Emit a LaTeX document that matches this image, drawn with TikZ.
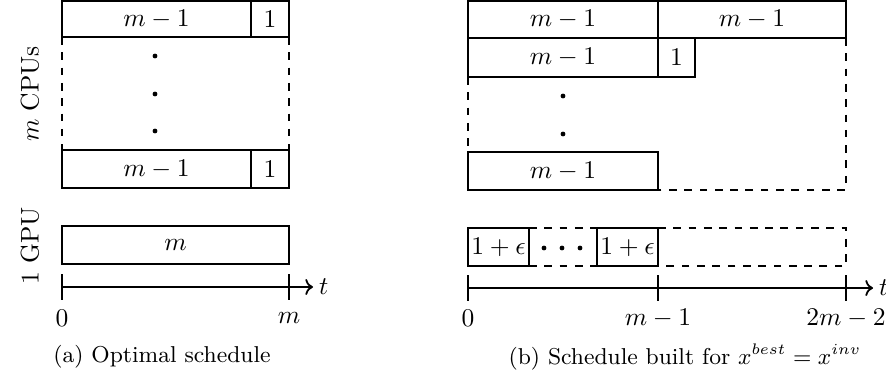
\documentclass[tikz,border=0pt]{standalone}
\usetikzlibrary{arrows.meta}
\newcommand\jobbox[6]{\node[jobnode, minimum width={(#4-#2)*0.392pt}, minimum height={(#5-#3)*0.392pt}] (#1) at ({(#2+#4)/2},{(#3+#5)/2}) {#6};}
\begin{document}
\begin{tikzpicture}[x=0.392pt,y=-0.392pt, line width=0.8pt,
  jobnode/.style={draw, rectangle, inner sep=0pt, outer sep=0pt},
  dotnode/.style={circle, fill, inner sep=0pt, minimum size=1.9pt},
  idle/.style={dashed, line width=0.6pt},
  axis/.style={-{To[length=3pt]}, line width=0.7pt},
  tick/.style={line width=0.6pt},
  lbl/.style={inner sep=0pt}]
\useasboundingbox (0,0) rectangle (886,374);
% ---------- (a) ----------
\jobbox{a1}{62}{1}{251}{37}{$m-1$}
\jobbox{a1b}{251}{1}{289}{37}{$1$}
\jobbox{a2}{62}{150}{251}{188}{$m-1$}
\jobbox{a2b}{251}{150}{289}{188}{$1$}
\draw[idle] (a1.south west) -- (a2.north west);
\draw[idle] (a1b.south east) -- (a2b.north east);
\node[dotnode] (ad1) at (155,56) {};
\node[dotnode] (ad2) at (155,94) {};
\node[dotnode] (ad3) at (155,131) {};
\jobbox{ag}{62}{226}{289}{264}{$m$}
\node[rotate=90, lbl] (acpu) at (30,94) {$m$ CPUs};
\node[rotate=90, lbl] (agpu) at (30,246) {1 GPU};
\coordinate (a0) at (62,287);
\coordinate (am) at (289,287);
\coordinate (aend) at (313,287);
\draw[axis] (a0) -- (aend);
\draw[tick] ([yshift=-5]a0) -- ([yshift=5]a0);
\draw[tick] ([yshift=-5]am) -- ([yshift=5]am);
\node[anchor=west, inner sep=2pt] (at) at (aend) {$t$};
\node (al0) at (62,318) {$0$};
\node (alm) at (289,318) {$m$};
\node (capa) at (162,357) {\small (a) Optimal schedule};
% ---------- (b) ----------
\jobbox{b1}{468}{1}{658}{38}{$m-1$}
\jobbox{b1b}{658}{1}{846}{38}{$m-1$}
\jobbox{b2}{468}{38}{658}{77}{$m-1$}
\jobbox{b2b}{658}{38}{695}{77}{$1$}
\jobbox{b3}{468}{152}{658}{190}{$m-1$}
\coordinate (bbr) at (846,190);
\draw[idle] (b2.south west) -- (b3.north west);
\draw[idle] (b1b.south east) -- (bbr) -- (b3.south east);
\node[dotnode] (bd1) at (563,96) {};
\node[dotnode] (bd2) at (563,134) {};
\jobbox{bg1}{468}{228}{529}{266}{$1+\epsilon$}
\jobbox{bg2}{597}{228}{658}{266}{$1+\epsilon$}
\coordinate (bgtr) at (846,228);
\coordinate (bgbr) at (846,266);
\draw[idle] (bg1.north east) -- (bg2.north west);
\draw[idle] (bg1.south east) -- (bg2.south west);
\draw[idle] (bg2.north east) -- (bgtr) -- (bgbr) -- (bg2.south east);
\node[dotnode] (bc1) at (544,248) {};
\node[dotnode] (bc2) at (562,248) {};
\node[dotnode] (bc3) at (580,248) {};
\coordinate (b0) at (468,288);
\coordinate (bm) at (658,288);
\coordinate (b2m) at (846,288);
\coordinate (bend) at (873,288);
\draw[axis] (b0) -- (bend);
\draw[tick] ([yshift=-5]b0) -- ([yshift=5]b0);
\draw[tick] ([yshift=-5]bm) -- ([yshift=5]bm);
\draw[tick] ([yshift=-5]b2m) -- ([yshift=5]b2m);
\node[anchor=west, inner sep=2pt] (bt) at (bend) {$t$};
\node (bl0) at (468,318) {$0$};
\node (blm) at (658,318) {$m-1$};
\node (bl2m) at (846,318) {$2m-2$};
\node (capb) at (685,357) {\small (b) Schedule built for $x^{best}=x^{inv}$};
\end{tikzpicture}
\end{document}
